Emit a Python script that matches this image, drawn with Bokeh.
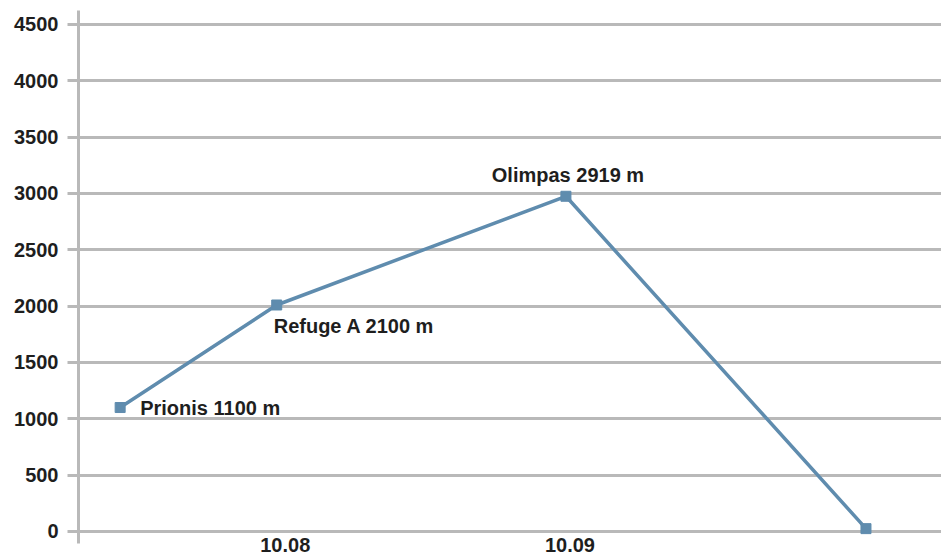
from bokeh.plotting import figure
from bokeh.models import Range1d, FixedTicker, ColumnDataSource
from bokeh.core.properties import value
from bokeh.embed import file_html
from bokeh.resources import INLINE

# data: x in days of October (day number), altitude in metres
days = [7.42, 7.97, 8.986, 10.04]
altitude = [1100, 2010, 2975, 25]
point_labels = ["Prionis 1100 m", "Refuge A 2100 m", "Olimpas 2919 m", ""]
x_tick_days = [8, 9]
x_tick_labels = ["10.08", "10.09"]
y_ticks = [0, 500, 1000, 1500, 2000, 2500, 3000, 3500, 4000, 4500]

LINE = "#5f8cae"
GRID = "#b9b9b9"
FONT = "Liberation Sans"

p = figure(width=941, height=554, output_backend="svg", toolbar_location=None,
           x_range=Range1d(7.2737, 10.3053), y_range=Range1d(-107, 4624),
           min_border_left=78, min_border_right=0, min_border_top=10, min_border_bottom=0)
p.outline_line_color = None
p.background_fill_color = "white"
p.border_fill_color = "white"

p.xgrid.grid_line_color = None
p.ygrid.grid_line_color = GRID
p.ygrid.grid_line_width = 3
p.ygrid.ticker = FixedTicker(ticks=y_ticks)

# y axis
p.yaxis.ticker = FixedTicker(ticks=y_ticks)
p.yaxis.axis_line_color = GRID
p.yaxis.axis_line_width = 3
p.yaxis.major_tick_line_color = GRID
p.yaxis.major_tick_line_width = 3
p.yaxis.major_tick_out = 11
p.yaxis.major_tick_in = 0
p.yaxis.minor_tick_line_color = None
p.yaxis.major_label_text_font = FONT
p.yaxis.major_label_text_font_style = "bold"
p.yaxis.major_label_text_font_size = "20px"
p.yaxis.major_label_text_color = "#1e1e1e"
p.yaxis.major_label_standoff = 9

# x axis
p.xaxis.ticker = FixedTicker(ticks=x_tick_days)
p.xaxis.major_label_overrides = {d: l for d, l in zip(x_tick_days, x_tick_labels)}
p.xaxis.axis_line_color = None
p.xaxis.major_tick_line_color = None
p.xaxis.minor_tick_line_color = None
p.xaxis.major_label_text_font = FONT
p.xaxis.major_label_text_font_style = "bold"
p.xaxis.major_label_text_font_size = "20px"
p.xaxis.major_label_text_color = "#1e1e1e"
p.xaxis.major_label_standoff = -12

src = ColumnDataSource(dict(x=days, y=altitude, label=point_labels))
p.line("x", "y", source=src, line_color=LINE, line_width=3.5)
p.scatter("x", "y", source=src, marker="square", size=10, fill_color=LINE, line_color=LINE)

common = dict(text_font=value(FONT), text_font_style="bold", text_font_size="20px",
              text_color="#1e1e1e")
p.text(x=[days[0]], y=[altitude[0]], text=[point_labels[0]], x_offset=20, y_offset=0,
       text_align="left", text_baseline="middle", **common)
p.text(x=[days[1]], y=[altitude[1]], text=[point_labels[1]], x_offset=-3, y_offset=10,
       text_align="left", text_baseline="top", **common)
p.text(x=[days[2]], y=[altitude[2]], text=[point_labels[2]], x_offset=2, y_offset=-10,
       text_align="center", text_baseline="bottom", **common)

open("out.html", "w").write(file_html(p, INLINE))
